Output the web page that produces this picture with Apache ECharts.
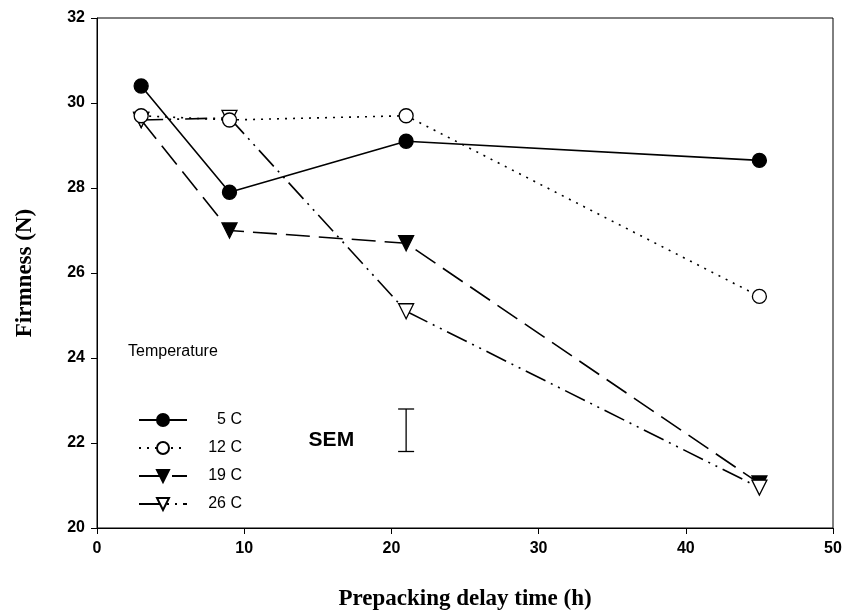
<!DOCTYPE html>
<html>
<head>
<meta charset="utf-8">
<script src="https://cdn.jsdelivr.net/npm/echarts@6/dist/echarts.min.js"></script>
<style>
    html, body { margin: 0; padding: 0; background: #fff; }
    #chart1 { width: 846px; height: 616px; }
</style>
</head>
<body>
<div id="chart1"></div>
<script>
    // prepacking delay (h)
    var hours = [3, 9, 21, 45];
    // firmness (N) per storage temperature
    var t5 = [30.4, 27.9, 29.1, 28.65];
    var t12 = [29.7, 29.6, 29.7, 25.45];
    var t19 = [29.6, 27.0, 26.7, 21.05];
    var t26 = [29.6, 29.65, 25.1, 20.95];
    var names = ['5 C', '12 C', '19 C', '26 C'];
    // SEM bar: x position, low, high
    var sem = [[21, 21.8, 22.8]];
    var yTicks = [20, 32, 2];
    var xTicks = [0, 50, 10];

    var axisColor = '#000';
    var sans = 'Liberation Sans';
    var serif = 'Liberation Serif';

    function pairs(ys) {
        return hours.map(function(h, i) { return [h, ys[i]]; });
    }

    function lineSeries(name, ys, dash, symbol, filled) {
        return {
            name: name,
            type: 'line',
            data: pairs(ys),
            symbol: symbol,
            symbolSize: symbol == 'circle' ? 14 : 15,
            symbolRotate: symbol == 'triangle' ? 180 : 0,
            itemStyle: {
                color: filled ? '#000' : '#fff',
                borderColor: '#000',
                borderWidth: 1.3
            },
            lineStyle: { color: '#000', width: 1.6, type: dash },
            z: 3
        };
    }

    var option = {
        animation: false,
        backgroundColor: '#fff',
        grid: {
            left: 97,
            right: 13,
            top: 18,
            bottom: 88,
            show: true,
            borderColor: axisColor,
            borderWidth: 1
        },
        legend: {
            data: names,
            orient: 'vertical',
            left: 133,
            top: 407,
            itemWidth: 48,
            itemHeight: 15,
            itemGap: 12,
            formatter: function(name) { return '{a|' + name + '}'; },
            textStyle: {
                fontFamily: sans,
                fontSize: 16,
                color: '#000',
                rich: {
                    a: { fontFamily: sans, fontSize: 16, color: '#000', width: 50, align: 'right' }
                }
            }
        },
        graphic: [{
            type: 'text',
            left: 128,
            top: 344,
            style: { text: 'Temperature', fontFamily: sans, fontSize: 16, fill: '#000' }
        }],
        xAxis: {
            type: 'value',
            min: xTicks[0],
            max: xTicks[1],
            interval: xTicks[2],
            name: 'Prepacking delay time (h)',
            nameLocation: 'middle',
            nameGap: 60,
            nameTextStyle: { fontFamily: serif, fontWeight: 'bold', fontSize: 23, color: '#000' },
            axisLine: { lineStyle: { color: axisColor } },
            axisTick: { show: true, inside: false, length: 6, lineStyle: { color: axisColor } },
            axisLabel: { fontFamily: sans, fontWeight: 'bold', fontSize: 16, color: '#000', margin: 13 },
            splitLine: { show: false }
        },
        yAxis: {
            type: 'value',
            min: yTicks[0],
            max: yTicks[1],
            interval: yTicks[2],
            name: 'Firmness (N)',
            nameLocation: 'middle',
            nameGap: 60,
            nameTextStyle: { fontFamily: serif, fontWeight: 'bold', fontSize: 23, color: '#000' },
            axisLine: { show: true, lineStyle: { color: axisColor } },
            axisTick: { show: true, inside: false, length: 6, lineStyle: { color: axisColor } },
            axisLabel: { fontFamily: sans, fontWeight: 'bold', fontSize: 16, color: '#000', margin: 12 },
            splitLine: { show: false }
        },
        series: [
            lineSeries(names[0], t5, 'solid', 'circle', true),
            lineSeries(names[2], t19, [24, 9], 'triangle', true),
            lineSeries(names[3], t26, [22, 6, 2, 6, 2, 6], 'triangle', false),
            lineSeries(names[1], t12, [2, 6], 'circle', false),
            {
                type: 'custom',
                data: sem,
                z: 4,
                renderItem: function(params, api) {
                    var lo = api.coord([api.value(0), api.value(1)]);
                    var hi = api.coord([api.value(0), api.value(2)]);
                    var cap = 8;
                    var st = { stroke: '#000', lineWidth: 1.3 };
                    return {
                        type: 'group',
                        children: [
                            { type: 'line', shape: { x1: lo[0], y1: lo[1], x2: hi[0], y2: hi[1] }, style: st },
                            { type: 'line', shape: { x1: lo[0] - cap, y1: lo[1], x2: lo[0] + cap, y2: lo[1] }, style: st },
                            { type: 'line', shape: { x1: hi[0] - cap, y1: hi[1], x2: hi[0] + cap, y2: hi[1] }, style: st },
                            {
                                type: 'text',
                                x: lo[0] - 52,
                                y: (lo[1] + hi[1]) / 2 + 10,
                                style: {
                                    text: 'SEM',
                                    fontFamily: sans,
                                    fontWeight: 'bold',
                                    fontSize: 21,
                                    fill: '#000',
                                    align: 'right',
                                    verticalAlign: 'middle'
                                }
                            }
                        ]
                    };
                }
            }
        ]
    };

    var chart1 = echarts.init(document.getElementById('chart1'));
    chart1.setOption(option);
    window.onresize = function() {
        chart1.resize();
    };
</script>
</body>
</html>
